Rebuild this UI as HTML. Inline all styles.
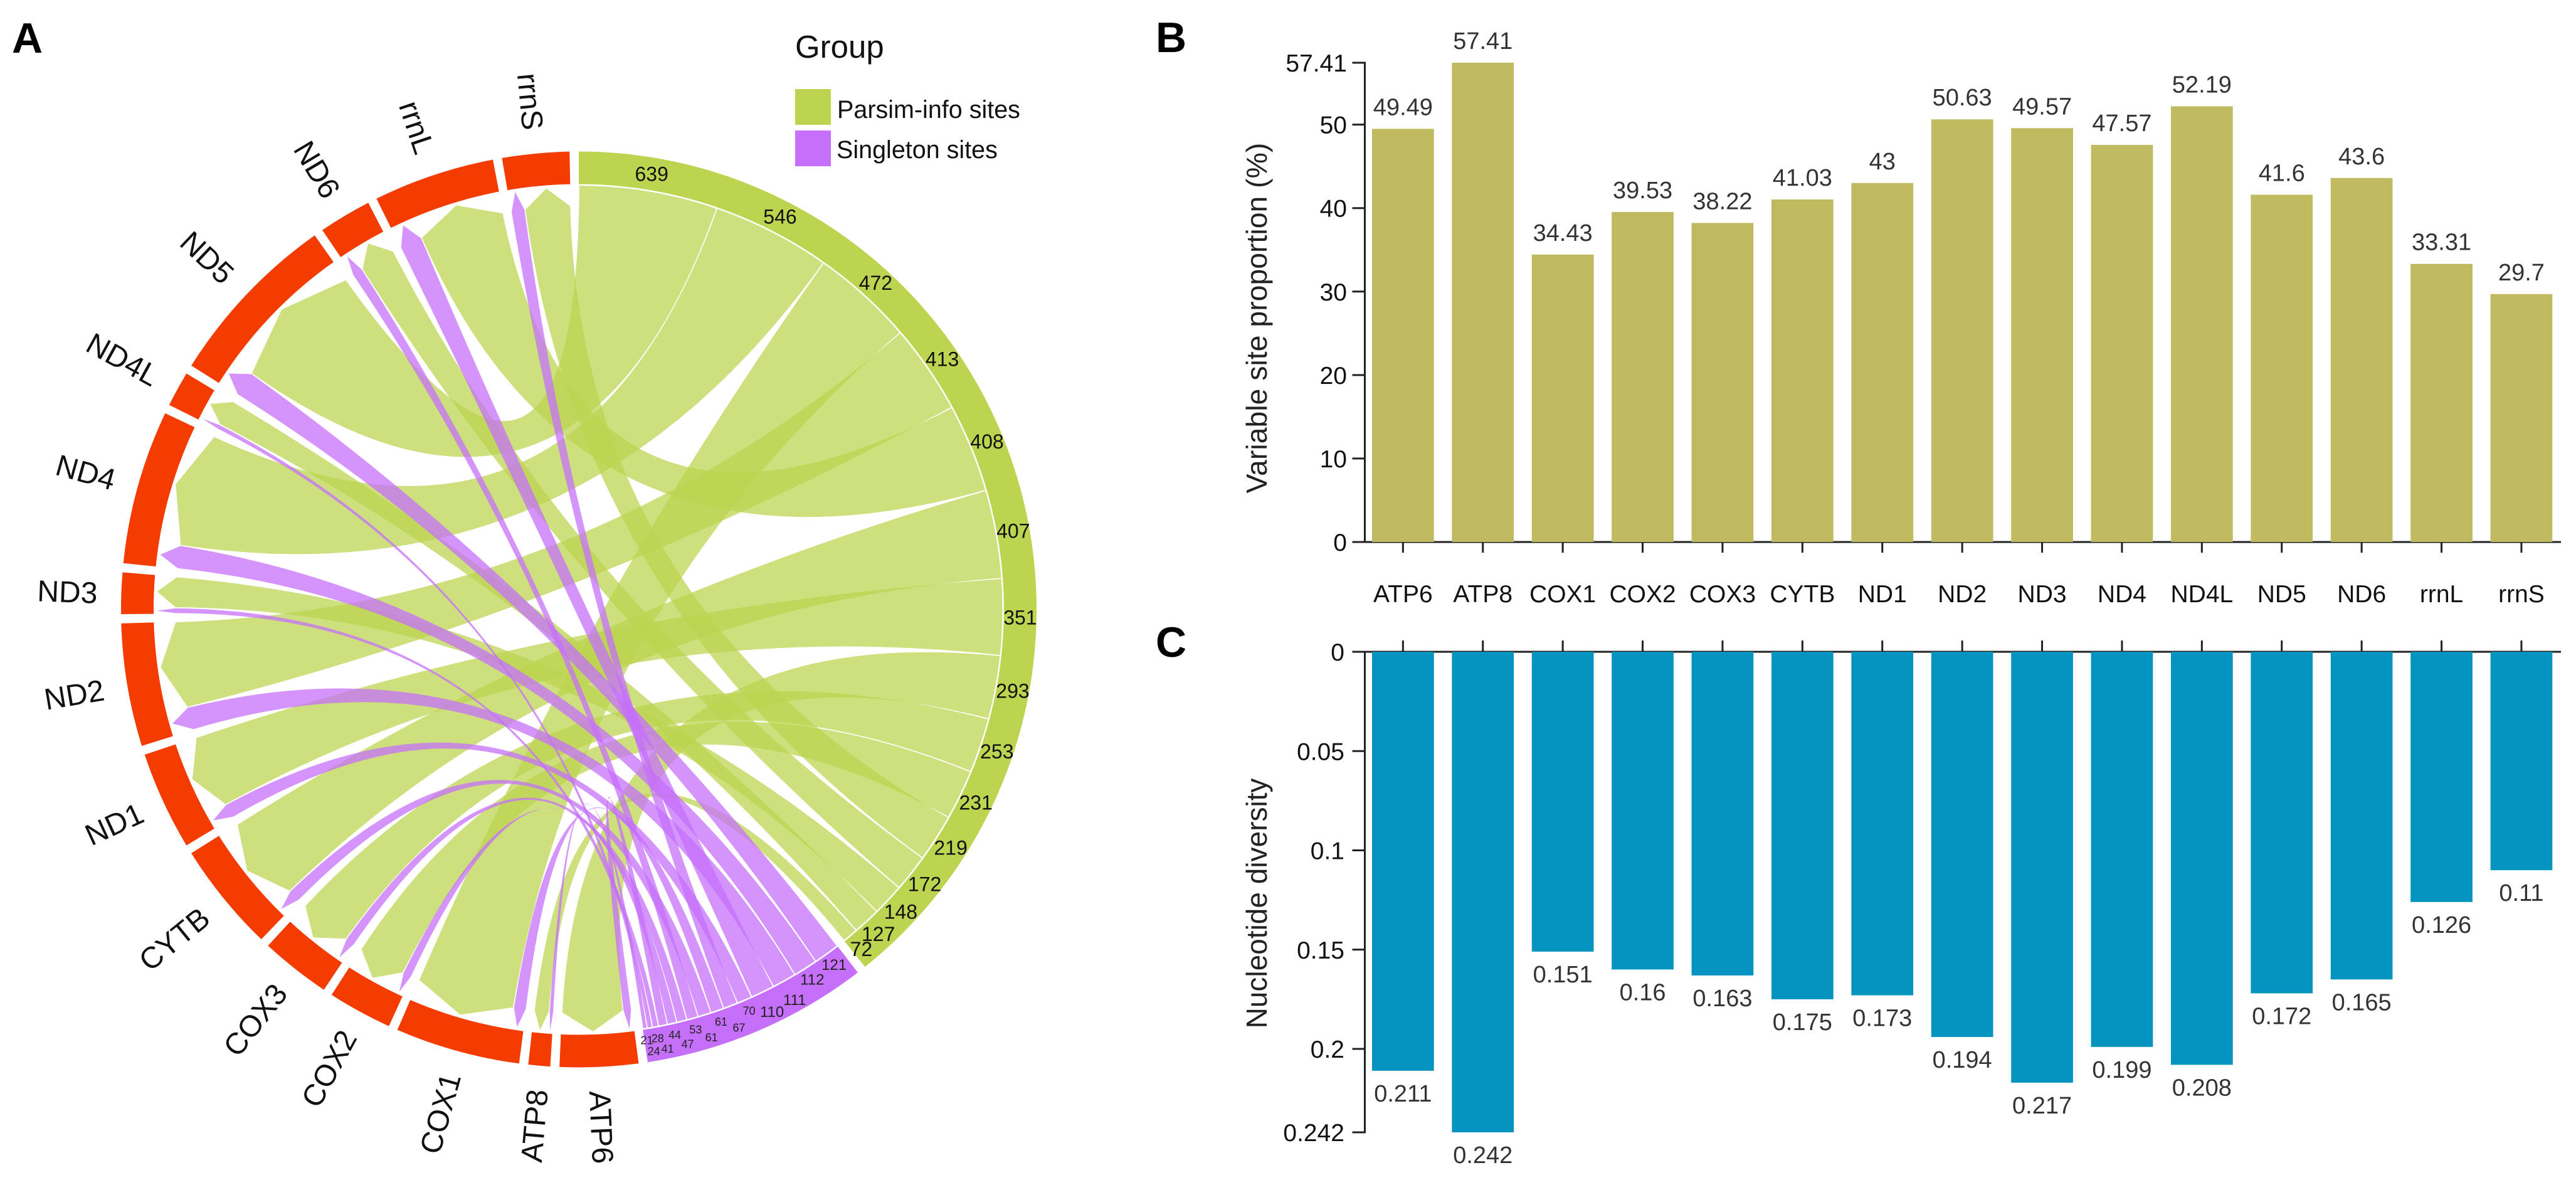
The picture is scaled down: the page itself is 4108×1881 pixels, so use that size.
<!DOCTYPE html>
<html lang="en">
<head>
<meta charset="utf-8">
<title>Mitochondrial gene variable sites chord diagram and bar charts</title>
<style>
html,body{margin:0;padding:0;background:#fff;}
svg{display:block;font-family:"Liberation Sans",sans-serif;}
</style>
</head>
<body>
<svg id="figure" xmlns="http://www.w3.org/2000/svg" width="4108" height="1881" viewBox="0 0 4108 1881">
  <rect x="0" y="0" width="4108" height="1881" fill="#ffffff"/>
  <text x="19" y="84" font-size="68" font-weight="bold" fill="#000">A</text>
  <text x="1843" y="83" font-size="68" font-weight="bold" fill="#000">B</text>
  <text x="1843" y="1047" font-size="68" font-weight="bold" fill="#000">C</text>

  <g id="chord"></g>

  <g>
    <text x="1268" y="92" font-size="51" fill="#111">Group</text>
    <rect x="1268" y="142" width="57" height="57" fill="#bdd451"/>
    <text x="1335" y="188" font-size="39.5" fill="#111">Parsim-info sites</text>
    <rect x="1268" y="208" width="57" height="57" fill="#c56ffb"/>
    <text x="1334" y="252" font-size="39.5" fill="#111">Singleton sites</text>
  </g>

  <g id="chartB">
    <text transform="translate(2020 507) rotate(-90)" text-anchor="middle" font-size="46.4" fill="#222">Variable site proportion (%)</text>
  </g>
  <g id="chartC">
    <text transform="translate(2020 1440) rotate(-90)" text-anchor="middle" font-size="46" fill="#222">Nucleotide diversity</text>
  </g>
</svg>

<script>
// ---- chart data ----
const genes = ["ATP6","ATP8","COX1","COX2","COX3","CYTB","ND1","ND2","ND3","ND4","ND4L","ND5","ND6","rrnL","rrnS"];
const parsimSites = [293,72,472,231,253,407,351,413,148,546,127,639,172,408,219];
const singletonSites = [41,21,61,44,47,61,70,111,28,112,24,121,53,110,67];
const variableProportion = [49.49,57.41,34.43,39.53,38.22,41.03,43,50.63,49.57,47.57,52.19,41.6,43.6,33.31,29.7];
const nucleotideDiversity = [0.211,0.242,0.151,0.16,0.163,0.175,0.173,0.194,0.217,0.199,0.208,0.172,0.165,0.126,0.11];
const variableTicks = [0,10,20,30,40,50,57.41];
const diversityTicks = [0,0.05,0.1,0.15,0.2,0.242];

const SVGNS = "http://www.w3.org/2000/svg";
function make(tag, parent, attrs, txt){
  const e = document.createElementNS(SVGNS, tag);
  for (const k in attrs) e.setAttribute(k, attrs[k]);
  if (txt !== undefined) e.textContent = txt;
  parent.appendChild(e);
  return e;
}

// ---- chord diagram ----
(function(){
  const root = document.getElementById("chord");
  const CX = 923, CY = 971.5, R_OUT = 730, R_IN = 678;
  const R_LINK = 675.5, R_TIP = 673, R_SHOULDER = 643;
  const GAP = 1.156, LINK_GAP = 0.075;
  const total = parsimSites.reduce((a,b)=>a+b,0) + singletonSites.reduce((a,b)=>a+b,0);
  const perUnit = (360 - 17*GAP) / (2*total);
  const pt = (deg, r) => {
    const t = deg*Math.PI/180;
    return [CX + r*Math.cos(t), CY - r*Math.sin(t)];
  };
  const fmt = p => p[0].toFixed(1)+" "+p[1].toFixed(1);
  const arcTo = (deg, r) => "A"+r+" "+r+" 0 0 1 "+fmt(pt(deg,r));
  function ring(a1, a2, color){
    const large = (a1 - a2) > 180 ? 1 : 0;
    return "M"+fmt(pt(a1,R_OUT))+"A"+R_OUT+" "+R_OUT+" 0 "+large+" 1 "+fmt(pt(a2,R_OUT))+"L"+fmt(pt(a2,R_IN))+
      "A"+R_IN+" "+R_IN+" 0 "+large+" 0 "+fmt(pt(a1,R_IN))+"Z";
  }
  function sideCurve(fromDeg, fromR, toDeg, toR){
    let diff = Math.abs(fromDeg - toDeg) % 360;
    let mean = (fromDeg + toDeg)/2;
    if (diff > 180){ diff = 360 - diff; mean += 180; }
    const rc = diff < 40 ? -60 + 2*diff : 20 * Math.max(0, (150 - diff)/110);
    return "Q"+fmt(pt(mean, rc))+" "+fmt(pt(toDeg, toR));
  }

  const byValue = arr => arr.map((v,i)=>i).sort((a,b)=>arr[b]-arr[a] || a-b);
  const parsimOrder = byValue(parsimSites);
  const singletonOrder = byValue(singletonSites);

  let cur = 90;
  const srcParsim = [], srcSingleton = [];
  const parsimStart = cur;
  parsimOrder.forEach(g => { const w = parsimSites[g]*perUnit; srcParsim[g] = [cur, cur-w]; cur -= w; });
  const parsimEnd = cur;
  cur -= GAP;
  const singletonStart = cur;
  singletonOrder.forEach(g => { const w = singletonSites[g]*perUnit; srcSingleton[g] = [cur, cur-w]; cur -= w; });
  const singletonEnd = cur;
  cur -= GAP;

  const geneSpan = [], dstSingleton = [], dstParsim = [];
  genes.forEach((name,g) => {
    const a0 = cur;
    const ws = singletonSites[g]*perUnit, wp = parsimSites[g]*perUnit;
    dstSingleton[g] = [a0, a0-ws];
    dstParsim[g] = [a0-ws, a0-ws-wp];
    cur = a0-ws-wp;
    geneSpan[g] = [a0, cur];
    cur -= GAP;
  });

  function chord(src, dst, color, parent){
    const s1 = src[0]-LINK_GAP, s2 = src[1]+LINK_GAP;
    const d1 = dst[0]-LINK_GAP, d2 = dst[1]+LINK_GAP;
    const tip = (d1+d2)/2;
    const d = "M"+fmt(pt(s1,R_LINK))+arcTo(s2,R_LINK)+
      sideCurve(s2,R_LINK,d1,R_SHOULDER)+
      "L"+fmt(pt(tip,R_TIP))+
      "L"+fmt(pt(d2,R_SHOULDER))+
      sideCurve(d2,R_SHOULDER,s1,R_LINK)+"Z";
    return make("path", parent, {d:d, fill:color, "fill-opacity":0.74});
  }

  const linkGroup = make("g", root, {});
  
  

  parsimOrder.forEach(g => {
    const p = chord(srcParsim[g], dstParsim[g], "#bdd451", linkGroup);
    
    
  });
  singletonOrder.forEach(g => {
    const p = chord(srcSingleton[g], dstSingleton[g], "#c56ffb", linkGroup);
    
    
  });

  const parsimRing = make("path", root, {d:ring(parsimStart, parsimEnd), fill:"#bdd451"});
  
  
  const singletonRing = make("path", root, {d:ring(singletonStart, singletonEnd), fill:"#c56ffb"});
  
  

  parsimOrder.forEach(g => {
    const mid = (srcParsim[g][0]+srcParsim[g][1])/2;
    const p = pt(mid, 704);
    const t = make("text", root, {x:p[0].toFixed(1), y:p[1].toFixed(1), dy:"0.36em", "text-anchor":"middle", "font-size":32, fill:"#111"}, parsimSites[g]);
    
    
  });
  singletonOrder.forEach((g,i) => {
    const mid = (srcSingleton[g][0]+srcSingleton[g][1])/2;
    const big = singletonSites[g] >= 100;
    const inner = big ? i < 2 : i % 2 === 0;
    const r = big ? (inner ? 697 : 711) : (inner ? 695 : 714);
    const p = pt(mid, r);
    const t = make("text", root, {x:p[0].toFixed(1), y:p[1].toFixed(1), dy:"0.36em", "text-anchor":"middle", "font-size":big?24:18, fill:"#222"}, singletonSites[g]);
    
    
  });

  genes.forEach((name,g) => {
    const sector = make("path", root, {d:ring(geneSpan[g][0], geneSpan[g][1]), fill:"#f53c00"});
    
    

    const mid = (geneSpan[g][0]+geneSpan[g][1])/2;
    const p = pt(mid, 768);
    const norm = ((mid % 360) + 360) % 360;
    const leftSide = norm > 90 && norm < 270;
    const rot = leftSide ? 180 - norm : -norm;
    const t = make("text", root, {
      transform:"translate("+p[0].toFixed(1)+" "+p[1].toFixed(1)+") rotate("+rot.toFixed(2)+")",
      dy:"0.36em",
      "text-anchor": leftSide ? "end" : "start",
      "font-size":48, fill:"#111"
    }, name);
    
    
  });
})();

// ---- bar charts ----
const BAR_LEFT = 2188, BAR_STEP = 127.4, BAR_WIDTH = 98.7, AXIS_X = 2176.5, AXIS_END = 4084;
const xCenter = i => BAR_LEFT + i*BAR_STEP + BAR_WIDTH/2;

(function(){
  const g = document.getElementById("chartB");
  const Y0 = 864, SCALE = (864 - 100) / 57.41;
  const y = v => Y0 - v*SCALE;

  variableProportion.forEach((v,i) => {
    const bar = make("rect", g, {x:BAR_LEFT+i*BAR_STEP, y:y(v), width:BAR_WIDTH, height:Y0-y(v), fill:"#bfba60"});
    
    
    const lab = make("text", g, {x:xCenter(i), y:y(v)-22, "text-anchor":"middle", "font-size":38, fill:"#333"}, v);
    
    
    const tick = make("line", g, {x1:xCenter(i), x2:xCenter(i), y1:Y0, y2:Y0+17, stroke:"#222", "stroke-width":3});
    
    
    const cat = make("text", g, {x:xCenter(i), y:960, "text-anchor":"middle", "font-size":39, fill:"#111"}, genes[i]);
    
    
  });
  const yAxis = make("line", g, {x1:AXIS_X, x2:AXIS_X, y1:y(57.41)-1.5, y2:Y0+1.5, stroke:"#222", "stroke-width":3});
  
  
  const xAxis = make("line", g, {x1:2156.5, x2:AXIS_END, y1:Y0, y2:Y0, stroke:"#222", "stroke-width":3});
  
  
  g.insertBefore(xAxis, g.children[1]);
  variableTicks.forEach(v => {
    const tick = make("line", g, {x1:2156.5, x2:AXIS_X, y1:y(v), y2:y(v), stroke:"#222", "stroke-width":3});
    
    
    const lab = make("text", g, {x:2148, y:y(v), dy:"0.36em", "text-anchor":"end", "font-size":39, fill:"#111"}, v);
    
    
  });
})();

(function(){
  const g = document.getElementById("chartC");
  const Y0 = 1039, SCALE = (1805 - 1039) / 0.242;
  const y = v => Y0 + v*SCALE;

  const xAxis = make("line", g, {x1:2156.5, x2:AXIS_END, y1:Y0, y2:Y0, stroke:"#222", "stroke-width":3});
  
  
  nucleotideDiversity.forEach((v,i) => {
    const bar = make("rect", g, {x:BAR_LEFT+i*BAR_STEP, y:Y0, width:BAR_WIDTH, height:y(v)-Y0, fill:"#0494bf"});
    
    
    const lab = make("text", g, {x:xCenter(i), y:y(v)+49, "text-anchor":"middle", "font-size":38, fill:"#333"}, v);
    
    
    const tick = make("line", g, {x1:xCenter(i), x2:xCenter(i), y1:Y0-18, y2:Y0, stroke:"#222", "stroke-width":3});
    
    
  });
  const yAxis = make("line", g, {x1:AXIS_X, x2:AXIS_X, y1:Y0-1.5, y2:y(0.242)+1.5, stroke:"#222", "stroke-width":3});
  
  
  diversityTicks.forEach(v => {
    const tick = make("line", g, {x1:2156.5, x2:AXIS_X, y1:y(v), y2:y(v), stroke:"#222", "stroke-width":3});
    
    
    const lab = make("text", g, {x:2144, y:y(v), dy:"0.36em", "text-anchor":"end", "font-size":39, fill:"#111"}, v);
    
    
  });
})();
</script>
</body>
</html>
